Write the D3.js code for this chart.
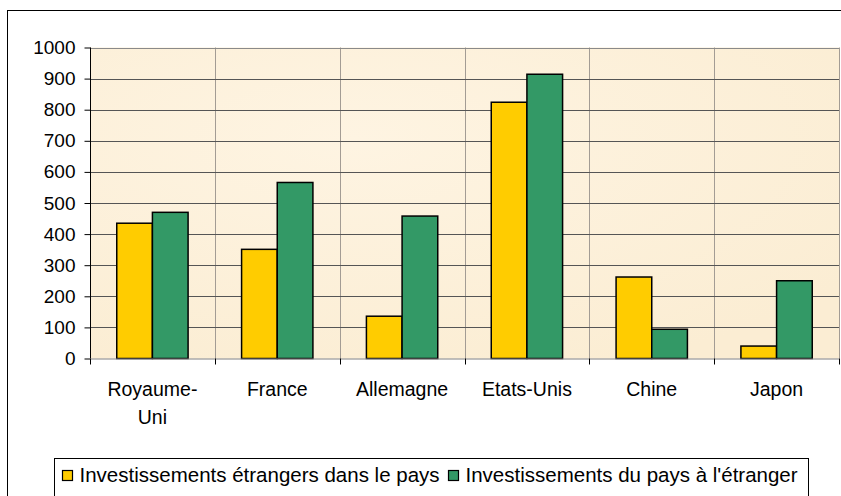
<!DOCTYPE html>
<html><head><meta charset="utf-8">
<script src="https://cdn.jsdelivr.net/npm/d3@7"></script>
<style>body{margin:0;background:#fff}svg{display:block}</style>
</head><body>
<svg id="c" width="841" height="496"></svg>
<script>
const categories = ["Royaume-Uni", "France", "Allemagne", "Etats-Unis", "Chine", "Japon"];
const catLines = [["Royaume-", "Uni"], ["France"], ["Allemagne"], ["Etats-Unis"], ["Chine"], ["Japon"]];
const seriesNames = ["Investissements étrangers dans le pays", "Investissements du pays à l'étranger"];
const inward = [435, 351, 136, 824, 262, 40];
const outward = [470, 566, 458, 914, 94, 250];
const yTicks = [0, 100, 200, 300, 400, 500, 600, 700, 800, 900, 1000];
const colors = ["#FFCC00", "#339966"];

const svg = d3.select("#c");
const font = "'Liberation Sans', Arial, sans-serif";
const L = 90, R = 839, T = 47.5, B = 358.5;

// outer border
svg.append("rect").attr("x", 7.5).attr("y", 10.5).attr("width", 840).attr("height", 490)
  .attr("fill", "#fff").attr("stroke", "#000").attr("stroke-width", 1);

const defs = svg.append("defs");
const g1 = defs.append("radialGradient").attr("id", "bg").attr("cx", "35%").attr("cy", "30%").attr("r", "80%");
g1.append("stop").attr("offset", "0%").attr("stop-color", "#FEF4E2");
g1.append("stop").attr("offset", "100%").attr("stop-color", "#FBEDD3");

const x = d3.scaleBand().domain(categories).range([L, R]).paddingInner(0).paddingOuter(0);
const y = d3.scaleLinear().domain([0, 1000]).range([B, T]);
const gap = 1.5;
const grpW = x.bandwidth() * 2 / (2 + gap);
const barW = grpW / 2;
const off = (x.bandwidth() - grpW) / 2;

svg.append("rect").attr("x", L).attr("y", T).attr("width", R - L).attr("height", B - T)
  .attr("fill", "url(#bg)");

// vertical category lines
const bounds = categories.map(c => x(c)).concat([R]);
svg.append("g").selectAll("line").data(bounds.slice(1))
  .join("line")
  .attr("x1", d => Math.round(d) + 0.5).attr("x2", d => Math.round(d) + 0.5)
  .attr("y1", T).attr("y2", B)
  .attr("stroke", "#A39C94").attr("stroke-width", 1);

// horizontal gridlines
svg.append("g").selectAll("line").data(yTicks.filter(d => d > 0))
  .join("line")
  .attr("x1", L).attr("x2", R).attr("y1", d => Math.round(y(d)) + 0.5).attr("y2", d => Math.round(y(d)) + 0.5)
  .attr("stroke", d => d === 1000 ? "#8a8a8a" : "#555").attr("stroke-width", 1);

// bars
const series = [inward, outward];
series.forEach((vals, si) => {
  svg.append("g").selectAll("rect").data(vals).join("rect")
    .attr("x", (d, i) => x(categories[i]) + off + si * barW)
    .attr("y", d => y(d))
    .attr("width", barW)
    .attr("height", d => B - y(d))
    .attr("fill", colors[si]).attr("stroke", "#000").attr("stroke-width", 1.5);
});

// y axis
const yAxis = d3.axisLeft(y).tickValues(yTicks).tickFormat(d3.format("d")).tickSize(6).tickPadding(9);
const ya = svg.append("g").attr("transform", `translate(${L + 0.5},0)`).call(yAxis);
ya.select(".domain").attr("stroke", "#000").attr("d", `M0,${T}V${B}`);
ya.selectAll(".tick line").attr("stroke", "#000");
ya.selectAll(".tick text").attr("font-family", font).attr("font-size", 19).attr("fill", "#000");

// x axis
svg.append("line").attr("x1", L).attr("x2", R).attr("y1", B + 0.5).attr("y2", B + 0.5).attr("stroke", "#808080");
svg.append("g").selectAll("line").data(bounds).join("line")
  .attr("x1", d => Math.round(d) + 0.5).attr("x2", d => Math.round(d) + 0.5)
  .attr("y1", B).attr("y2", B + 6).attr("stroke", "#000");

const xl = svg.append("g").selectAll("text").data(categories).join("text")
  .attr("x", d => x(d) + x.bandwidth() / 2)
  .attr("y", 396)
  .attr("text-anchor", "middle").attr("font-family", font).attr("font-size", 19.5).attr("fill", "#000");
xl.each(function(d, i) {
  const t = d3.select(this);
  catLines[i].forEach((ln, k) => {
    t.append("tspan").attr("x", x(d) + x.bandwidth() / 2).attr("dy", k === 0 ? 0 : 28).text(ln);
  });
});

// legend
const lg = svg.append("g");
lg.append("rect").attr("x", 54.5).attr("y", 458.5).attr("width", 754).attr("height", 40)
  .attr("fill", "#fff").attr("stroke", "#000").attr("stroke-width", 1);
const items = [{x: 62.5, t: seriesNames[0], c: colors[0]}, {x: 448.5, t: seriesNames[1], c: colors[1]}];
items.forEach(it => {
  lg.append("rect").attr("x", it.x).attr("y", 470.5).attr("width", 10).attr("height", 10)
    .attr("fill", it.c).attr("stroke", "#000").attr("stroke-width", 1.2);
  lg.append("text").attr("x", it.x + 17).attr("y", 482).attr("font-family", font)
    .attr("font-size", 20.5).attr("fill", "#000").text(it.t);
});
</script>
</body></html>
